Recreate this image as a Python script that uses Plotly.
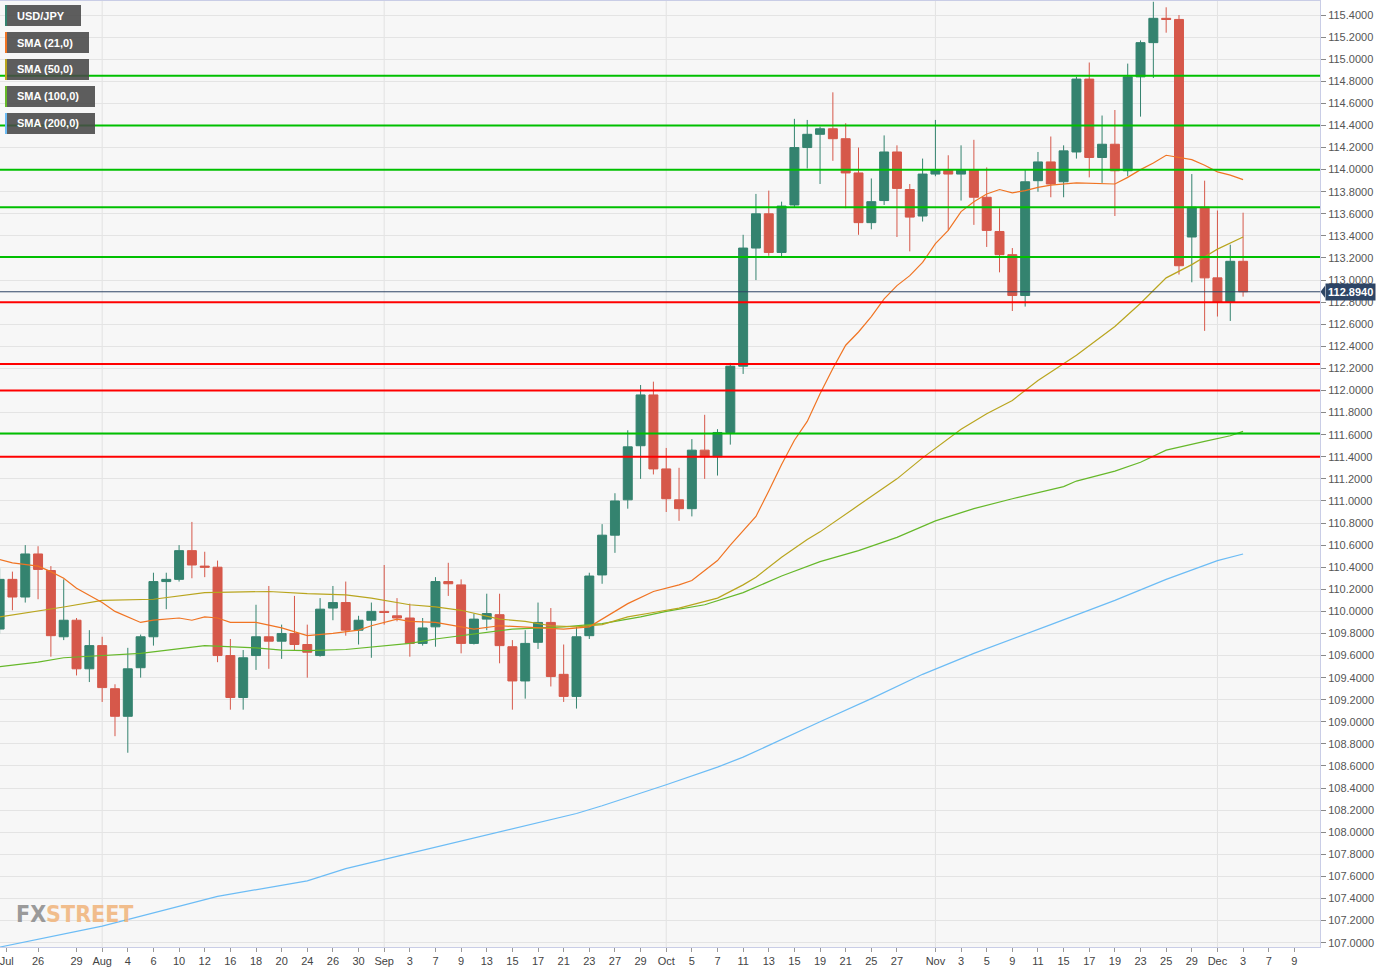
import plotly.graph_objects as go

# ---------------- data ----------------
# trading-day index: 0 = Jul 21 2021 ... 97 = Dec 3 2021
day_index = list(range(98))

open_ = [109.84, 110.29, 110.13, 110.52, 110.37, 109.77, 109.92, 109.48, 109.69, 109.30,
         109.05, 109.49, 109.77, 110.27, 110.29, 110.55, 110.41, 110.40, 109.60, 109.22,
         109.60, 109.77, 109.73, 109.80, 109.70, 109.60, 110.03, 110.08, 109.83, 109.92,
         110.00, 109.96, 109.94, 109.71, 109.86, 110.27, 110.24, 109.71, 109.93, 109.97,
         109.68, 109.37, 109.72, 109.90, 109.43, 109.23, 109.78, 110.33, 110.69, 111.01,
         111.50, 111.96, 111.29, 111.01, 110.93, 111.46, 111.40, 111.62, 112.22, 113.29,
         113.60, 113.25, 113.68, 114.20, 114.32, 114.37, 114.28, 113.97, 113.52, 113.72,
         114.16, 113.82, 113.58, 113.96, 114.00, 113.96, 114.00, 113.75, 113.44, 113.23,
         112.86, 113.90, 114.07, 113.89, 114.16, 114.82, 114.11, 114.23, 113.99, 114.84,
         115.15, 115.37, 115.36, 113.39, 113.66, 113.02, 112.80, 113.17]
high = [110.39, 110.36, 110.60, 110.59, 110.41, 110.29, 109.94, 109.83, 109.77, 109.34,
        109.67, 109.79, 110.35, 110.35, 110.60, 110.81, 110.54, 110.46, 109.75, 109.65,
        110.06, 110.23, 109.88, 110.14, 109.88, 110.12, 110.23, 110.27, 109.96, 110.08,
        110.42, 110.12, 110.07, 109.94, 110.31, 110.44, 110.29, 109.98, 110.16, 110.16,
        109.74, 109.83, 110.08, 110.03, 109.70, 109.86, 110.35, 110.79, 111.07, 111.64,
        112.05, 112.08, 111.48, 111.30, 111.56, 111.78, 111.65, 112.25, 113.41, 113.78,
        113.81, 113.71, 114.46, 114.45, 114.39, 114.70, 114.42, 114.20, 113.92, 114.31,
        114.22, 113.87, 114.10, 114.45, 114.13, 114.22, 114.27, 114.02, 113.65, 113.29,
        114.00, 114.16, 114.30, 114.22, 114.84, 114.97, 114.49, 114.54, 114.96, 115.17,
        115.52, 115.47, 115.40, 113.96, 113.90, 113.63, 113.32, 113.61]
low = [109.80, 110.01, 110.08, 110.11, 109.59, 109.74, 109.42, 109.36, 109.18, 108.87,
       108.72, 109.40, 109.69, 110.02, 110.27, 110.30, 110.31, 109.54, 109.11, 109.11,
       109.47, 109.48, 109.57, 109.65, 109.40, 109.59, 109.92, 109.78, 109.70, 109.58,
       109.88, 109.91, 109.59, 109.69, 109.68, 110.14, 109.62, 109.70, 109.83, 109.53,
       109.11, 109.21, 109.66, 109.32, 109.18, 109.12, 109.75, 110.25, 110.53, 110.93,
       111.20, 111.24, 110.90, 110.82, 110.86, 111.20, 111.23, 111.51, 112.15, 113.00,
       113.22, 113.21, 113.66, 114.01, 113.87, 114.08, 113.65, 113.41, 113.46, 113.68,
       113.39, 113.26, 113.53, 113.94, 113.45, 113.72, 113.50, 113.30, 113.07, 112.72,
       112.76, 113.80, 113.75, 113.75, 114.10, 113.93, 113.88, 113.58, 113.94, 114.48,
       114.83, 115.24, 113.05, 112.98, 112.54, 112.67, 112.63, 112.85]
close = [110.29, 110.13, 110.52, 110.38, 109.78, 109.92, 109.48, 109.69, 109.31, 109.05,
         109.48, 109.77, 110.27, 110.29, 110.55, 110.42, 110.40, 109.60, 109.22, 109.58,
         109.77, 109.73, 109.80, 109.70, 109.63, 110.02, 110.08, 109.83, 109.92, 110.00,
         109.99, 109.94, 109.71, 109.85, 110.27, 110.25, 109.71, 109.93, 109.98, 109.69,
         109.37, 109.71, 109.90, 109.41, 109.23, 109.77, 110.32, 110.69, 111.00, 111.49,
         111.96, 111.29, 111.02, 110.93, 111.46, 111.40, 111.62, 112.22, 113.29, 113.60,
         113.25, 113.67, 114.20, 114.32, 114.37, 114.28, 113.97, 113.52, 113.71, 114.16,
         113.83, 113.57, 113.96, 114.00, 113.96, 114.00, 113.75, 113.45, 113.23, 112.86,
         113.89, 114.07, 113.87, 114.17, 114.82, 114.11, 114.23, 113.99, 114.84, 115.15,
         115.37, 115.36, 113.13, 113.66, 113.02, 112.80, 113.17, 112.894]

sma21_x = [0, 1, 3, 4, 5, 6, 8, 9, 11, 12, 14, 15, 16, 17, 18, 20, 22, 24, 26, 28, 29, 31, 32,
           34, 36, 37, 39, 41, 44, 46, 47, 49, 51, 53, 54, 56, 57, 59, 60, 61, 62, 63, 64, 65,
           66, 67, 68, 69, 70, 71, 72, 73, 74, 75, 76, 77, 78, 79, 80, 81, 82, 84, 87, 88, 89,
           90, 91, 92, 93, 94, 95, 96, 97]
sma21_y = [110.47, 110.44, 110.41, 110.36, 110.30, 110.21, 110.08, 110.00, 109.90, 109.92,
           109.94, 109.92, 109.95, 109.94, 109.90, 109.90, 109.85, 109.78, 109.80, 109.83,
           109.87, 109.93, 109.91, 109.90, 109.86, 109.84, 109.87, 109.86, 109.84, 109.86,
           109.93, 110.07, 110.18, 110.24, 110.28, 110.46, 110.60, 110.86, 111.09, 111.33,
           111.55, 111.72, 111.97, 112.20, 112.41, 112.53, 112.67, 112.83, 112.95, 113.04,
           113.16, 113.33, 113.45, 113.62, 113.71, 113.78, 113.82, 113.79, 113.81, 113.84,
           113.86, 113.88, 113.87, 113.93, 114.00, 114.06, 114.13, 114.11, 114.09, 114.04,
           113.98, 113.95, 113.91]

sma50_x = [0, 3, 5, 8, 12, 16, 21, 24, 27, 29, 32, 34, 36, 39, 41, 43, 45, 47, 49, 51, 53,
           56, 58, 59, 61, 63, 64, 67, 70, 72, 75, 77, 79, 81, 84, 87, 89, 91, 93, 95, 97]
sma50_y = [109.95, 110.00, 110.04, 110.10, 110.11, 110.17, 110.18, 110.16, 110.15, 110.12,
           110.06, 110.04, 110.01, 109.93, 109.91, 109.87, 109.86, 109.88, 109.95, 109.99,
           110.03, 110.12, 110.24, 110.31, 110.49, 110.65, 110.72, 110.96, 111.20, 111.39,
           111.65, 111.79, 111.91, 112.09, 112.32, 112.58, 112.79, 113.02, 113.14, 113.28,
           113.39]

sma100_x = [0, 3, 5, 8, 11, 16, 20, 22, 24, 27, 29, 32, 34, 36, 40, 44, 47, 50, 52, 55, 58,
            61, 64, 67, 70, 73, 76, 79, 83, 84, 87, 89, 91, 94, 96, 97]
sma100_y = [109.50, 109.54, 109.58, 109.60, 109.62, 109.69, 109.67, 109.65, 109.645, 109.655,
            109.675, 109.71, 109.75, 109.78, 109.84, 109.86, 109.89, 109.95, 110.00, 110.06,
            110.17, 110.32, 110.45, 110.55, 110.67, 110.82, 110.93, 111.02, 111.13, 111.18,
            111.27, 111.35, 111.46, 111.54, 111.59, 111.63]

sma200_x = [0, 8, 17, 24, 27, 32, 39, 45, 47, 52, 56, 58, 64, 68, 72, 76, 82, 87, 91, 95, 97]
sma200_y = [106.96, 107.15, 107.42, 107.56, 107.67, 107.81, 108.00, 108.17, 108.24, 108.43,
            108.59, 108.68, 109.00, 109.21, 109.43, 109.62, 109.88, 110.10, 110.29, 110.46,
            110.52]

green_levels = [114.85, 114.40, 114.00, 113.66, 113.21, 111.61]
red_levels = [112.80, 112.24, 112.00, 111.40]
last_price = 112.894

month_start_idx = [8, 30, 52, 73, 95]
x_tick_pos = [0.55, 3, 6, 8, 10, 12, 14, 16, 18, 20, 22, 24, 26, 28, 30, 32, 34, 36, 38, 40,
              42, 44, 46, 48, 50, 52, 54, 56, 58, 60, 62, 64, 66, 68, 70, 73, 75, 77, 79, 81,
              83, 85, 87, 89, 91, 93, 95, 97, 99, 101]
x_tick_text = ["Jul", "26", "29", "Aug", "4", "6", "10", "12", "16", "18",
               "20", "24", "26", "30", "Sep", "3", "7", "9", "13", "15",
               "17", "21", "23", "27", "29", "Oct", "5", "7", "11", "13",
               "15", "19", "21", "25", "27", "Nov", "3", "5", "9", "11",
               "15", "17", "19", "23", "25", "29", "Dec", "3", "7", "9"]

legend_labels = ["USD/JPY", "SMA (21,0)", "SMA (50,0)", "SMA (100,0)", "SMA (200,0)"]

# ---------------- style ----------------
W, H = 1397, 973
ML, MR, MT, MB = 0, 77, 1, 26
PW, PH = W - ML - MR, H - MT - MB
FONT = "Liberation Sans, Arial, sans-serif"

C_UP = "#34836f"
C_DN = "#d6584a"
C_21 = "#f07423"
C_50 = "#b9a51e"
C_100 = "#66b82a"
C_200 = "#6cbcf5"
C_GREEN = "#00c000"
C_RED = "#ff0000"
C_NAVY = "#2d4566"
AXLINE = "#c9cde6"


def pxx(x):
    return (x - ML) / PW


def pxy(y):
    return 1 - (y - MT) / PH


fig = go.Figure()
fig.add_trace(go.Candlestick(
    x=day_index, open=open_, high=high, low=low, close=close,
    increasing=dict(line=dict(color=C_UP, width=1), fillcolor=C_UP),
    decreasing=dict(line=dict(color=C_DN, width=1), fillcolor=C_DN),
    whiskerwidth=0, showlegend=False, hoverinfo="skip"))

for xs, ys, col in [(sma200_x, sma200_y, C_200), (sma100_x, sma100_y, C_100),
                    (sma50_x, sma50_y, C_50), (sma21_x, sma21_y, C_21)]:
    fig.add_trace(go.Scatter(x=xs, y=ys, mode="lines", line=dict(color=col, width=1.2),
                             showlegend=False, hoverinfo="skip"))

shapes = []
for m in month_start_idx:
    shapes.append(dict(type="line", xref="x", yref="paper", x0=m, x1=m, y0=0, y1=1,
                       line=dict(color="#e2e2e2", width=1), layer="below"))
for lv in green_levels:
    shapes.append(dict(type="line", xref="paper", yref="y", x0=0, x1=1, y0=lv, y1=lv,
                       line=dict(color=C_GREEN, width=2), layer="above"))
for lv in red_levels:
    shapes.append(dict(type="line", xref="paper", yref="y", x0=0, x1=1, y0=lv, y1=lv,
                       line=dict(color=C_RED, width=2), layer="above"))
shapes.append(dict(type="line", xref="paper", yref="y", x0=0, x1=1, y0=last_price, y1=last_price,
                   line=dict(color=C_NAVY, width=1), layer="above"))
# small pointer of the price tag
shapes.append(dict(type="path", xref="paper", yref="y", layer="above",
                   path=f"M {pxx(1320.5)},{last_price} L {pxx(1325)},{last_price + 0.055} "
                        f"L {pxx(1325)},{last_price - 0.055} Z",
                   fillcolor=C_NAVY, line=dict(width=0)))

annotations = []
legend_cols = [C_UP, C_21, C_50, C_100, C_200]
legend_w = [76, 84, 84, 90, 90]
for i, (lab, col, bw) in enumerate(zip(legend_labels, legend_cols, legend_w)):
    top = 5 + 27 * i
    shapes.append(dict(type="rect", xref="paper", yref="paper", layer="above",
                       x0=pxx(5), x1=pxx(5 + bw), y0=pxy(top + 21), y1=pxy(top),
                       fillcolor="rgba(72,72,72,0.88)", line=dict(width=0)))
    shapes.append(dict(type="rect", xref="paper", yref="paper", layer="above",
                       x0=pxx(5), x1=pxx(7), y0=pxy(top + 21), y1=pxy(top),
                       fillcolor=col, line=dict(width=0)))
    annotations.append(dict(xref="paper", yref="paper", x=pxx(15), y=pxy(top + 10.5),
                            xanchor="left", yanchor="middle", showarrow=False,
                            text=f"<b>{lab}</b>", font=dict(family=FONT, size=11, color="white")))

annotations.append(dict(xref="paper", yref="y", x=pxx(1325), y=last_price, xanchor="left",
                        yanchor="middle", showarrow=False, text=f"<b>{last_price:.4f}</b>",
                        bgcolor=C_NAVY, borderpad=2,
                        font=dict(family=FONT, size=11, color="white")))
annotations.append(dict(xref="paper", yref="paper", x=pxx(14), y=pxy(914), xanchor="left",
                        yanchor="middle", showarrow=False, opacity=0.85,
                        text="<b><span style='color:#8a8a8a'>FX</span>"
                             "<span style='color:#f1b47a'>STREET</span></b>",
                        font=dict(family="DejaVu Sans Condensed, DejaVu Sans", size=23)))

fig.update_layout(
    width=W, height=H, autosize=False,
    margin=dict(l=ML, r=MR, t=MT, b=MB, pad=0, autoexpand=False),
    paper_bgcolor="white", plot_bgcolor="#f7f7f7",
    boxgap=0.3, boxgroupgap=0,
    showlegend=False, shapes=shapes, annotations=annotations,
    font=dict(family=FONT, size=11, color="#444"),
    xaxis=dict(range=[0.03, 103.0], tickmode="array", tickvals=x_tick_pos, ticktext=x_tick_text,
               showgrid=False, zeroline=False, showline=True, mirror=True, linecolor=AXLINE,
               ticks="outside", ticklen=4, tickcolor="#999", tickfont=dict(size=11, color="#444"),
               ticklabeloverflow="allow",
               rangeslider=dict(visible=False), fixedrange=True, automargin=False),
    yaxis=dict(side="right", range=[106.961, 115.527], tick0=107.0, dtick=0.2, tickformat=".4f",
               showgrid=True, gridcolor="#e4e4e4", gridwidth=1, zeroline=False,
               showline=True, mirror=True, linecolor=AXLINE,
               ticks="outside", ticklen=5, tickcolor="#888", automargin=False,
               ticklabeloverflow="allow",
               tickfont=dict(size=11, color="#555")),
)

fig.write_html("out.html", config={"displayModeBar": False},
               post_script="document.body.style.margin='0px';")
